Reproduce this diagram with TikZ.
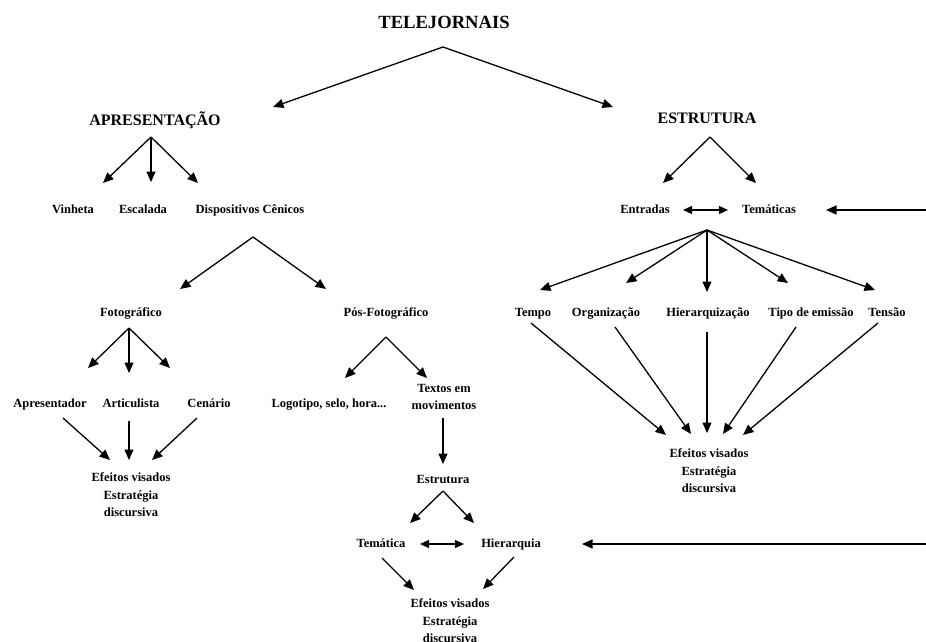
\documentclass[tikz,border=0pt]{standalone}
\usepackage{fontspec}
\setmainfont{Liberation Serif}
\usetikzlibrary{arrows.meta}
\begin{document}
\begin{tikzpicture}[x=1pt,y=-1pt,
  lbl/.style={font=\bfseries\fontsize{12.5}{14}\selectfont, inner sep=0pt, text height=9pt, text depth=3pt},
  stack/.style={font=\bfseries\fontsize{12.5}{17}\selectfont, inner sep=0pt, align=center},
  big/.style={font=\bfseries\fontsize{16}{19}\selectfont, inner sep=0pt},
  huge/.style={font=\bfseries\fontsize{18.6}{21}\selectfont, inner sep=0pt},
  arr/.style={-{Triangle[length=10.5pt,width=9pt]}, line width=1.3pt},
  dbl/.style={{Triangle[length=9pt,width=8pt]}-{Triangle[length=9pt,width=8pt]}, line width=1.3pt}]
\useasboundingbox (0,0) rectangle (926,641);

% ---- nodes
\node[huge] (tele) at (444,22) {TELEJORNAIS};
\node[big] (apr) at (155,120) {APRESENTAÇÃO};
\node[big] (est) at (707,118) {ESTRUTURA};

\node[lbl] (vin) at (73,210) {Vinheta};
\node[lbl] (esc) at (143,210) {Escalada};
\node[lbl] (disp) at (250,210) {Dispositivos Cênicos};

\node[lbl] (foto) at (131,313) {Fotográfico};
\node[lbl] (pos) at (386,313) {Pós-Fotográfico};

\node[lbl] (apres) at (50,404) {Apresentador};
\node[lbl] (artic) at (131,404) {Articulista};
\node[lbl] (cen) at (209,404) {Cenário};
\node[lbl] (logo) at (329,404) {Logotipo, selo, hora...};
\node[stack] (textos) at (444,397) {Textos em\\movimentos};

\node[stack] (efL) at (131,495) {Efeitos visados\\[1pt]Estratégia\\discursiva};

\node[lbl] (estr) at (443,480) {Estrutura};
\node[lbl] (tem) at (381,544) {Temática};
\node[lbl] (hier) at (511,544) {Hierarquia};
\node[stack] (efB) at (450,621) {Efeitos visados\\[1pt]Estratégia\\discursiva};

\node[lbl] (entr) at (645,210) {Entradas};
\node[lbl] (temas) at (769,210) {Temáticas};

\node[lbl] (tempo) at (533,313) {Tempo};
\node[lbl] (org) at (606,313) {Organização};
\node[lbl] (hierq) at (708,313) {Hierarquização};
\node[lbl] (tipo) at (811,313) {Tipo de emissão};
\node[lbl] (tensao) at (887,313) {Tensão};

\node[stack] (efR) at (709,471) {Efeitos visados\\[1pt]Estratégia\\discursiva};

% ---- connector end points
\coordinate (tele-o) at (443,47);
\coordinate (apr-i) at (273,107);
\coordinate (est-i) at (613,107);

\coordinate (apr-o) at (151,137);
\coordinate (vin-i) at (103,183);
\coordinate (esc-i) at (151,182);
\coordinate (disp-i) at (198,183);

\coordinate (disp-o) at (253,237);
\coordinate (foto-i) at (180,289);
\coordinate (pos-i) at (326,289);

\coordinate (foto-o) at (129,328);
\coordinate (apres-i) at (88,368);
\coordinate (artic-i) at (129,373);
\coordinate (cen-i) at (170,368);

\coordinate (pos-o) at (386,337);
\coordinate (logo-i) at (345,378);
\coordinate (textos-i) at (427,378);

\coordinate (apres-o) at (63,418);
\coordinate (artic-o) at (129,421);
\coordinate (cen-o) at (197,418);
\coordinate (efL-a) at (110,460);
\coordinate (efL-b) at (129,460);
\coordinate (efL-c) at (152,460);

\coordinate (textos-o) at (443,418);
\coordinate (estr-i) at (443,464);

\coordinate (estr-o) at (443,491);
\coordinate (tem-i) at (410,523);
\coordinate (hier-i) at (474,523);

\coordinate (tem-r) at (420,544);
\coordinate (hier-l) at (464,544);
\coordinate (hier-r) at (582,544);
\coordinate (edgeB) at (926,544);

\coordinate (tem-o) at (382,558);
\coordinate (hier-o) at (514,557);
\coordinate (efB-a) at (414,590);
\coordinate (efB-b) at (483,589);

\coordinate (est-o) at (710,137);
\coordinate (entr-i) at (663,183);
\coordinate (temas-i) at (756,183);

\coordinate (entr-r) at (683,210);
\coordinate (temas-l) at (728,210);
\coordinate (temas-r) at (826,210);
\coordinate (edgeT) at (926,210);

\coordinate (temas-o) at (707,230);
\coordinate (tempo-i) at (540,290);
\coordinate (org-i) at (626,283);
\coordinate (hierq-i) at (707,292);
\coordinate (tipo-i) at (788,283);
\coordinate (tensao-i) at (875,290);

\coordinate (tempo-o) at (531,323);
\coordinate (org-o) at (615,327);
\coordinate (hierq-o) at (707,332);
\coordinate (tipo-o) at (796,327);
\coordinate (tensao-o) at (878,323);
\coordinate (efR-a) at (666,435);
\coordinate (efR-b) at (691,434);
\coordinate (efR-c) at (707,433);
\coordinate (efR-d) at (723,434);
\coordinate (efR-e) at (743,435);

% ---- connectors
\draw[arr] (tele-o) -- (apr-i);
\draw[arr] (tele-o) -- (est-i);

\draw[arr] (apr-o) -- (vin-i);
\draw[arr] (apr-o) -- (esc-i);
\draw[arr] (apr-o) -- (disp-i);

\draw[arr] (disp-o) -- (foto-i);
\draw[arr] (disp-o) -- (pos-i);

\draw[arr] (foto-o) -- (apres-i);
\draw[arr] (foto-o) -- (artic-i);
\draw[arr] (foto-o) -- (cen-i);

\draw[arr] (pos-o) -- (logo-i);
\draw[arr] (pos-o) -- (textos-i);

\draw[arr] (apres-o) -- (efL-a);
\draw[arr] (artic-o) -- (efL-b);
\draw[arr] (cen-o) -- (efL-c);

\draw[arr] (textos-o) -- (estr-i);
\draw[arr] (estr-o) -- (tem-i);
\draw[arr] (estr-o) -- (hier-i);
\draw[dbl] (tem-r) -- (hier-l);
\draw[arr] (edgeB) -- (hier-r);
\draw[arr] (tem-o) -- (efB-a);
\draw[arr] (hier-o) -- (efB-b);

\draw[arr] (est-o) -- (entr-i);
\draw[arr] (est-o) -- (temas-i);
\draw[dbl] (entr-r) -- (temas-l);
\draw[arr] (edgeT) -- (temas-r);

\draw[arr] (temas-o) -- (tempo-i);
\draw[arr] (temas-o) -- (org-i);
\draw[arr] (temas-o) -- (hierq-i);
\draw[arr] (temas-o) -- (tipo-i);
\draw[arr] (temas-o) -- (tensao-i);

\draw[arr] (tempo-o) -- (efR-a);
\draw[arr] (org-o) -- (efR-b);
\draw[arr] (hierq-o) -- (efR-c);
\draw[arr] (tipo-o) -- (efR-d);
\draw[arr] (tensao-o) -- (efR-e);
\end{tikzpicture}
\end{document}
